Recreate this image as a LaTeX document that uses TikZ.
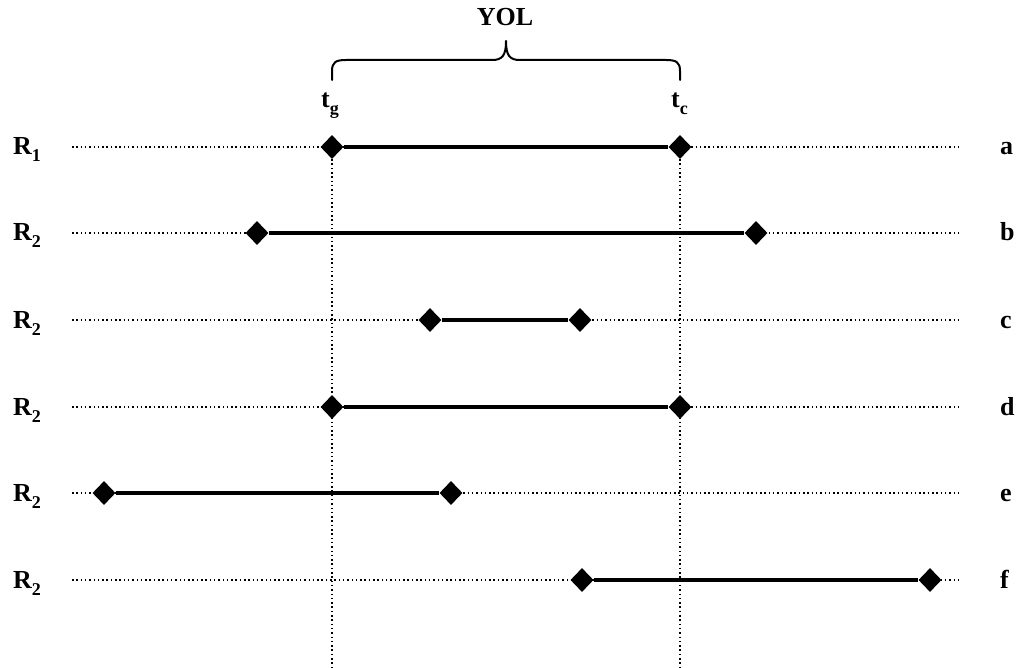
\documentclass[tikz,border=0pt]{standalone}
\usepackage{fontspec}
\setmainfont{Liberation Serif}
\usetikzlibrary{shapes.geometric}
\newcommand{\lbsub}[2]{#1\raisebox{-7pt}{\fontsize{18}{18}\selectfont #2}}
\begin{document}
\begin{tikzpicture}[x=1pt,y=-1pt,
  lbl/.style={font=\fontsize{26}{26}\selectfont\bfseries, inner sep=0pt, anchor=base west},
  dotline/.style={line width=1.7pt, dash pattern=on 1.5pt off 2.8pt},
  bar/.style={line width=4.6pt},
  endmark/.style={diamond, fill=black, minimum width=23pt, minimum height=24pt, inner sep=0pt},
  bracepath/.style={line width=2pt, line cap=round, line join=round}]
  \useasboundingbox (0,0) rectangle (1017,668);

  % row baselines
  \foreach \n/\y in {1/147,2/233,3/320,4/407,5/493,6/580}{
    \coordinate (L\n) at (72,\y);
    \coordinate (R\n) at (962,\y);
    \draw[dotline] (L\n) -- (R\n);
  }

  % row labels
  \node[lbl] (ra) at (13,155) {\lbsub{R}{1}};
  \node[lbl] (rb) at (13,241) {\lbsub{R}{2}};
  \node[lbl] (rc) at (13,328) {\lbsub{R}{2}};
  \node[lbl] (rd) at (13,415) {\lbsub{R}{2}};
  \node[lbl] (re) at (13,501) {\lbsub{R}{2}};
  \node[lbl] (rf) at (13,588) {\lbsub{R}{2}};
  \node[lbl] (la) at (1000,155) {a};
  \node[lbl] (lb) at (1000,241) {b};
  \node[lbl] (lc) at (1000,328) {c};
  \node[lbl] (ld) at (1000,415) {d};
  \node[lbl] (le) at (1000,501) {e};
  \node[lbl] (lf) at (1000,588) {f};

  % interval end points
  \node[endmark] (a1) at (332,147) {};
  \node[endmark] (a2) at (680,147) {};
  \node[endmark] (b1) at (257,233) {};
  \node[endmark] (b2) at (756,233) {};
  \node[endmark] (c1) at (430,320) {};
  \node[endmark] (c2) at (580,320) {};
  \node[endmark] (d1) at (332,407) {};
  \node[endmark] (d2) at (680,407) {};
  \node[endmark] (e1) at (104,493) {};
  \node[endmark] (e2) at (451,493) {};
  \node[endmark] (f1) at (582,580) {};
  \node[endmark] (f2) at (930,580) {};

  % intervals
  \foreach \p in {a,b,c,d,e,f}{
    \draw[bar] (\p1) -- (\p2);
  }

  % reference verticals
  \coordinate (vg) at (332,668);
  \coordinate (vc) at (680,668);
  \draw[dotline] (a1.south) -- (vg);
  \draw[dotline] (a2.south) -- (vc);

  % end labels
  \node[lbl] (tg) at (321,108) {\lbsub{t}{g}};
  \node[lbl] (tc) at (671,108) {\lbsub{t}{c}};

  % brace
  \draw[bracepath] (332,80) -- (332,71) .. controls (332,62) and (336,60) .. (346,60)
    -- (492,60) .. controls (502,60) and (506,56) .. (506,41)
    .. controls (506,56) and (510,60) .. (520,60)
    -- (666,60) .. controls (676,60) and (680,62) .. (680,71) -- (680,80);
  \node[lbl, anchor=base] (yol) at (505,26) {YOL};
\end{tikzpicture}
\end{document}
